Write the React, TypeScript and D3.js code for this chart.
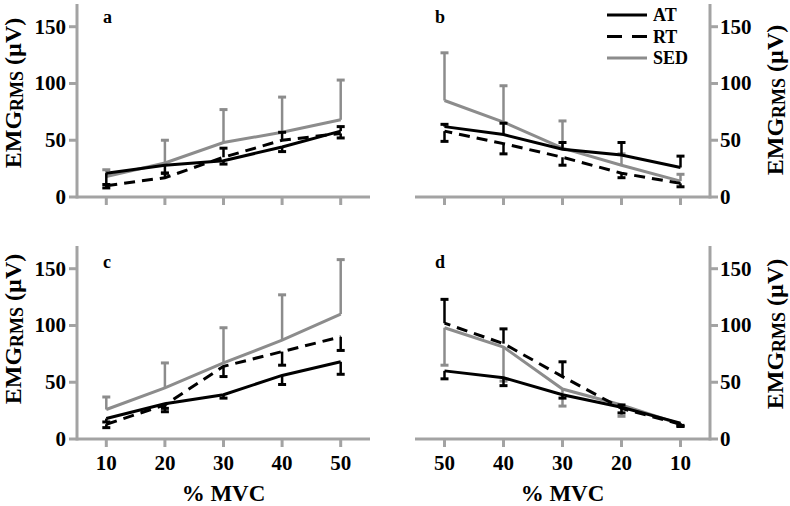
import React from "react";
import * as d3 from "d3";

// %MVC levels
const mvc = [10, 20, 30, 40, 50];
const yTicks = [0, 50, 100, 150];
const xTickLabels = ["10", "20", "30", "40", "50"];
const seriesNames = ["AT", "RT", "SED"];
const panelLetters = ["a", "b", "c", "d"];

// Panel a (ascending)
const atA = [21, 28, 32, 44, 58];
const atAErr = [-10, -7, -3, -4, 4];
const rtA = [10, 17, 35, 50, 56];
const rtAErr = [-2, 4, 8, 7, -4];
const sedA = [18, 30, 48, 57, 68];
const sedAErr = [6, 20, 29, 31, 35];

// Panel b (descending)
const atB = [26, 37, 42, 55, 62];
const atBErr = [10, 11, 6, 10, 2];
const rtB = [12, 21, 35, 47, 58];
const rtBErr = [-3, -4, -7, -9, -9];
const sedB = [14, 28, 43, 66, 85];
const sedBErr = [6, 10, 24, 32, 42];

// Panel c (ascending)
const atC = [18, 31, 39, 56, 68];
const atCErr = [-3, -4, -3, -8, -11];
const rtC = [13, 30, 64, 77, 90];
const rtCErr = [-3, -6, -9, -12, -12];
const sedC = [26, 45, 67, 87, 110];
const sedCErr = [11, 22, 31, 40, 48];

// Panel d (descending)
const atD = [14, 28, 39, 54, 60];
const atDErr = [-2, -5, -3, -7, -7];
const rtD = [13, 27, 55, 84, 102];
const rtDErr = [-2, 3, 13, 13, 21];
const sedD = [13, 30, 44, 81, 98];
const sedDErr = [-2, -10, -15, -30, -33];

const AXIS = "#a3a3a3";
const GRAY = "#8c8c8c";
const BLACK = "#000";
const FONT = '"Liberation Serif", "Times New Roman", Times, serif';

type Series = { name: string; values: number[]; err: number[]; color: string; dash?: string };

function Panel(props: {
  letter: string;
  descending: boolean;
  top: boolean;
  series: Series[];
}) {
  const { letter, descending, top, series } = props;
  const axisY = top ? 197 : 439;
  const xRange: [number, number] = descending ? [415, 710] : [77, 370];
  const x = d3.scaleLinear().domain(descending ? [55, 5] : [5, 55]).range(xRange);
  const y = d3.scaleLinear().domain([0, 170]).range([axisY, axisY - 193]);
  const yAxisX = descending ? 710 : 77;
  const line = d3
    .line<number>()
    .x((_, i) => x(mvc[i]))
    .y((v) => y(v));
  const letterX = descending ? 435 : 103;
  const letterY = top ? 23 : 268;
  const labelX = descending ? 783 : 21;
  const labelY = top ? (descending ? 100 : 93) : descending ? 334 : 329;
  return (
    <g>
      {/* axes */}
      <line x1={xRange[0]} x2={xRange[1]} y1={axisY} y2={axisY} stroke={AXIS} strokeWidth={3} />
      <line x1={yAxisX} x2={yAxisX} y1={y(0) + 1.5} y2={y(170)} stroke={AXIS} strokeWidth={3} />
      {mvc.map((m, i) => (
        <g key={"xt" + i}>
          <line x1={x(m)} x2={x(m)} y1={axisY} y2={axisY + 8} stroke={AXIS} strokeWidth={3} />
          {!top && (
            <text
              x={x(m)}
              y={axisY + 31}
              textAnchor="middle"
              style={{ fontFamily: FONT }}
              fontWeight="bold"
              fontSize={21}
            >
              {xTickLabels[i]}
            </text>
          )}
        </g>
      ))}
      {yTicks.map((t) => (
        <g key={"yt" + t}>
          <line
            x1={yAxisX}
            x2={descending ? yAxisX + 8 : yAxisX - 8}
            y1={y(t)}
            y2={y(t)}
            stroke={AXIS}
            strokeWidth={3}
          />
          <text
            x={descending ? yAxisX + 10 : yAxisX - 11}
            y={y(t) + 7}
            textAnchor={descending ? "start" : "end"}
            style={{ fontFamily: FONT }}
            fontWeight="bold"
            fontSize={21}
          >
            {t}
          </text>
        </g>
      ))}
      {/* y label */}
      <text
        transform={`translate(${labelX},${labelY}) rotate(-90)`}
        textAnchor="middle"
        style={{ fontFamily: FONT }}
        fontWeight="bold"
        fontSize={24}
      >
        EMG
        <tspan fontSize={18} dy={2}>
          RMS
        </tspan>
        <tspan dy={-2}> (µV)</tspan>
      </text>
      {!top && (
        <text
          x={(xRange[0] + xRange[1]) / 2}
          y={501}
          textAnchor="middle"
          style={{ fontFamily: FONT }}
          fontWeight="bold"
          fontSize={23}
        >
          % MVC
        </text>
      )}
      <text x={letterX} y={letterY} style={{ fontFamily: FONT }} fontWeight="bold" fontSize={18}>
        {letter}
      </text>
      {/* series */}
      {series.map((s) => (
        <g key={s.name}>
          {s.values.map((v, i) => {
            const e = v + s.err[i];
            const cx = x(mvc[i]);
            return (
              <g key={i}>
                <line x1={cx} x2={cx} y1={y(v)} y2={y(e)} stroke={s.color} strokeWidth={2.5} />
                <line x1={cx - 4} x2={cx + 4} y1={y(e)} y2={y(e)} stroke={s.color} strokeWidth={3} />
              </g>
            );
          })}
          <path
            d={line(s.values) || ""}
            fill="none"
            stroke={s.color}
            strokeWidth={3}
            strokeDasharray={s.dash}
          />
        </g>
      ))}
    </g>
  );
}

function mk(at: number[], atE: number[], rt: number[], rtE: number[], sed: number[], sedE: number[]): Series[] {
  return [
    { name: seriesNames[2], values: sed, err: sedE, color: GRAY },
    { name: seriesNames[1], values: rt, err: rtE, color: BLACK, dash: "11,7" },
    { name: seriesNames[0], values: at, err: atE, color: BLACK },
  ];
}

export default function App() {
  const legendColors = [BLACK, BLACK, GRAY];
  const legendDash = [undefined, "15,10", undefined];
  return (
    <svg
      width={790}
      height={506}
      style={{ position: "absolute", left: 0, top: 0, background: "#fff" }}
    >
      <rect width={790} height={506} fill="#fff" />
      <Panel letter={panelLetters[0]} descending={false} top={true} series={mk(atA, atAErr, rtA, rtAErr, sedA, sedAErr)} />
      <Panel letter={panelLetters[1]} descending={true} top={true} series={mk(atB, atBErr, rtB, rtBErr, sedB, sedBErr)} />
      <Panel letter={panelLetters[2]} descending={false} top={false} series={mk(atC, atCErr, rtC, rtCErr, sedC, sedCErr)} />
      <Panel letter={panelLetters[3]} descending={true} top={false} series={mk(atD, atDErr, rtD, rtDErr, sedD, sedDErr)} />
      {/* legend */}
      {seriesNames.map((n, i) => (
        <g key={n}>
          <line
            x1={607}
            x2={647}
            y1={15 + i * 21.5}
            y2={15 + i * 21.5}
            stroke={legendColors[i]}
            strokeWidth={3}
            strokeDasharray={legendDash[i]}
          />
          <text x={653} y={21 + i * 21.5} style={{ fontFamily: FONT }} fontWeight="bold" fontSize={18}>
            {n}
          </text>
        </g>
      ))}
    </svg>
  );
}
